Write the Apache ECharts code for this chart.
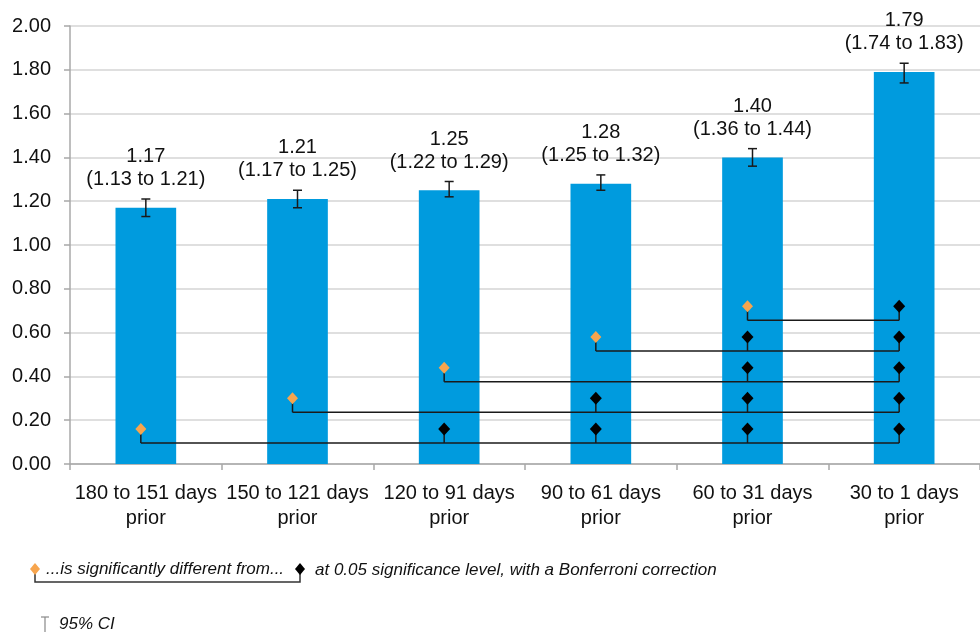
<!DOCTYPE html>
<html>
<head>
<meta charset="utf-8">
<script src="https://cdn.jsdelivr.net/npm/echarts@6/dist/echarts.min.js"></script>
<style>
html,body{margin:0;padding:0;background:#fff;}
#chart{width:980px;height:632px;}
</style>
</head>
<body>
<div id="chart"></div>
<script>
// ---- data ----
const categories = ['180 to 151 days\nprior', '150 to 121 days\nprior', '120 to 91 days\nprior',
                    '90 to 61 days\nprior', '60 to 31 days\nprior', '30 to 1 days\nprior'];
const values = [1.17, 1.21, 1.25, 1.28, 1.40, 1.79];
const ciLow  = [1.13, 1.17, 1.22, 1.25, 1.36, 1.74];
const ciHigh = [1.21, 1.25, 1.29, 1.32, 1.44, 1.83];
// significance comparisons: orange marker at sigFrom, black markers at sigTo, drawn at sigLevel
const sigFrom  = [0, 1, 2, 3, 4];
const sigLevel = [0.16, 0.30, 0.44, 0.58, 0.72];
const sigTo    = [[2, 3, 4, 5], [3, 4, 5], [4, 5], [4, 5], [5]];
const yTicks = { min: 0, max: 2, interval: 0.2 };

const FONT = '"Liberation Sans", Arial, Helvetica, sans-serif';
const BLUE = '#009BDE';
const ORANGE = '#F7A54E';
const INK = '#1a1a1a';

function diamond(cx, cy, hw, hh, color) {
  return {
    type: 'polygon',
    shape: { points: [[cx, cy - hh], [cx + hw, cy], [cx, cy + hh], [cx - hw, cy]] },
    style: { fill: color, stroke: null }
  };
}

const chart = echarts.init(document.getElementById('chart'));
const DX = -5; // marker offset from bar centre, px

chart.setOption({
  animation: false,
  backgroundColor: '#fff',
  grid: { left: 70, right: 0, top: 26, bottom: 168, containLabel: false },
  xAxis: {
    type: 'category',
    data: categories,
    axisLine: { lineStyle: { color: '#A8A8A8', width: 1.5 } },
    axisTick: { show: true, length: 6, lineStyle: { color: '#A8A8A8', width: 1.5 } },
    axisLabel: { interval: 0, fontFamily: FONT, fontSize: 20, color: '#111', lineHeight: 25, margin: 17 }
  },
  yAxis: {
    type: 'value',
    min: yTicks.min, max: yTicks.max, interval: yTicks.interval,
    axisLine: { show: true, lineStyle: { color: '#A8A8A8', width: 1.5 } },
    axisTick: { show: true, length: 6, lineStyle: { color: '#A8A8A8', width: 1.5 } },
    splitLine: { lineStyle: { color: '#D4D4D4', width: 1.5 } },
    axisLabel: { fontFamily: FONT, fontSize: 20, color: '#111', margin: 19,
                 formatter: v => v.toFixed(2) }
  },
  series: [
    {
      type: 'bar',
      data: values,
      barWidth: '40%',
      itemStyle: { color: BLUE },
      z: 2
    },
    {
      type: 'custom',
      z: 5,
      data: values.map((v, i) => [i, ciLow[i], ciHigh[i], v]),
      encode: { x: 0, y: [1, 2] },
      renderItem: function (params, api) {
        const i = api.value(0);
        const lo = api.value(1), hi = api.value(2), v = api.value(3);
        const pLo = api.coord([i, lo]);
        const pHi = api.coord([i, hi]);
        const x = pLo[0];
        const cap = 4.5;
        const ls = { stroke: INK, lineWidth: 1.5 };
        return {
          type: 'group',
          children: [
            { type: 'line', shape: { x1: x, y1: pLo[1], x2: x, y2: pHi[1] }, style: ls },
            { type: 'line', shape: { x1: x - cap, y1: pLo[1], x2: x + cap, y2: pLo[1] }, style: ls },
            { type: 'line', shape: { x1: x - cap, y1: pHi[1], x2: x + cap, y2: pHi[1] }, style: ls },
            {
              type: 'text',
              x: x, y: pHi[1] - 8,
              style: {
                text: v.toFixed(2) + '\n(' + lo.toFixed(2) + ' to ' + hi.toFixed(2) + ')',
                fontFamily: FONT, fontSize: 20, lineHeight: 23, fill: '#111',
                align: 'center', verticalAlign: 'bottom'
              }
            }
          ]
        };
      }
    },
    {
      type: 'custom',
      z: 6,
      data: sigFrom.map((f, k) => [f, sigLevel[k]]),
      encode: { x: 0, y: 1 },
      renderItem: function (params, api) {
        const k = params.dataIndex;
        const from = api.value(0), lvl = api.value(1);
        const p0 = api.coord([from, lvl]);
        const x0 = p0[0] + DX, y0 = p0[1];
        const yl = y0 + 14;
        const tos = sigTo[k];
        const last = api.coord([tos[tos.length - 1], lvl]);
        const xEnd = last[0] + DX;
        const ls = { stroke: INK, lineWidth: 1.5 };
        const lines = [
          { type: 'line', shape: { x1: x0, y1: y0, x2: x0, y2: yl }, style: ls },
          { type: 'line', shape: { x1: x0, y1: yl, x2: xEnd, y2: yl }, style: ls }
        ];
        const marks = [diamond(x0, y0, 5.5, 6, ORANGE)];
        tos.forEach(t => {
          const p = api.coord([t, lvl]);
          const x = p[0] + DX;
          lines.push({ type: 'line', shape: { x1: x, y1: y0, x2: x, y2: yl }, style: ls });
          marks.push(diamond(x, y0, 6, 6.5, '#000'));
        });
        return { type: 'group', children: lines.concat(marks) };
      }
    }
  ],
  graphic: [
    // legend: significance
    { type: 'polyline', shape: { points: [[35, 569], [35, 582], [300, 582], [300, 569]] },
      style: { stroke: '#333', lineWidth: 1.5, fill: null } },
    { type: 'polygon', shape: { points: [[35, 563], [40, 569], [35, 575], [30, 569]] }, style: { fill: ORANGE } },
    { type: 'polygon', shape: { points: [[300, 563], [305, 569], [300, 575], [295, 569]] }, style: { fill: '#000' } },
    { type: 'text', x: 46, y: 569,
      style: { text: '...is significantly different from...', fontFamily: FONT, fontSize: 17,
               fontStyle: 'italic', fill: '#111', verticalAlign: 'middle' } },
    { type: 'text', x: 315, y: 570,
      style: { text: 'at 0.05 significance level, with a Bonferroni correction', fontFamily: FONT, fontSize: 17,
               fontStyle: 'italic', fill: '#111', verticalAlign: 'middle' } },
    // legend: CI
    { type: 'polyline', shape: { points: [[41, 617], [49, 617]] }, style: { stroke: '#888', lineWidth: 1.2 } },
    { type: 'polyline', shape: { points: [[45, 617], [45, 632]] }, style: { stroke: '#888', lineWidth: 1.2 } },
    { type: 'text', x: 59, y: 624,
      style: { text: '95% CI', fontFamily: FONT, fontSize: 17, fontStyle: 'italic', fill: '#111',
               verticalAlign: 'middle' } }
  ]
});
</script>
</body>
</html>
